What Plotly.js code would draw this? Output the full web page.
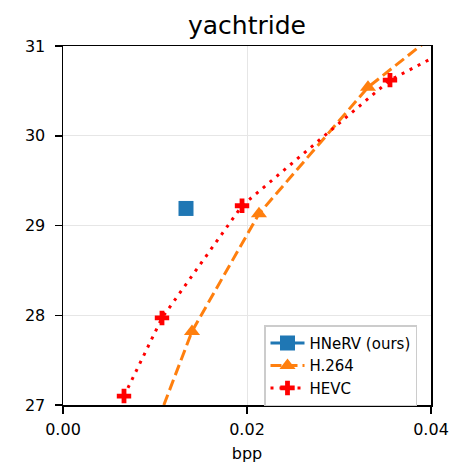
<!DOCTYPE html>
<html><head><meta charset="utf-8">
<script src="https://cdn.plot.ly/plotly-3.0.1.min.js"></script>
<style>body{margin:0;background:#fff}#c{width:452px;height:466px}</style>
</head><body><div id="c"></div>
<script>
const hnervBpp = [0.01337];
const hnervPsnr = [29.19];
const h264Bpp = [0.0091, 0.01402, 0.0213, 0.03315, 0.045];
const h264Psnr = [26.5, 27.82, 29.13, 30.54, 31.5];
const hevcBpp = [0.00663, 0.01076, 0.01946, 0.03554, 0.052];
const hevcPsnr = [27.10, 27.97, 29.22, 30.62, 31.5];
const xTicks = [0, 0.02, 0.04];
const xTickText = ['0.00', '0.02', '0.04'];
const yTicks = [27, 28, 29, 30, 31];

const F = 'DejaVu Sans';
const traces = [
  {x: hnervBpp, y: hnervPsnr, name: 'HNeRV (ours)', mode: 'lines+markers',
   line: {color: '#1f77b4', width: 3}, marker: {symbol: 'square', size: 15, color: '#1f77b4'}},
  {x: h264Bpp, y: h264Psnr, name: 'H.264', mode: 'lines+markers',
   line: {color: '#ff7f0e', width: 3, dash: '11px,5px'}, marker: {symbol: 'triangle-up', size: 14, color: '#ff7f0e'}},
  {x: hevcBpp, y: hevcPsnr, name: 'HEVC', mode: 'lines+markers',
   line: {color: '#ff0000', width: 3, dash: '3px,6px'}, marker: {symbol: 'cross', size: 12, color: '#ff0000'}}
];
const layout = {
  width: 452, height: 466,
  margin: {l: 63, r: 21, t: 46, b: 61},
  paper_bgcolor: '#fff', plot_bgcolor: '#fff',
  font: {family: F, size: 16, color: '#000'},
  title: {text: 'yachtride', font: {family: F, size: 25, color: '#000'}, xref: 'paper', x: 0.5, xanchor: 'center',
    yref: 'container', y: 0.946, yanchor: 'middle'},
  xaxis: {range: [0, 0.04], tickvals: xTicks, ticktext: xTickText, showgrid: true, gridcolor: '#e6e6e6', gridwidth: 1,
    showline: true, linecolor: '#000', linewidth: 1.5, mirror: true, ticks: 'outside', ticklen: 7, tickwidth: 1.5, tickcolor: '#000',
    zeroline: false, tickfont: {family: F, size: 16, color: '#000'}, ticklabelstandoff: 2, automargin: false,
    title: {text: 'bpp', font: {family: F, size: 16, color: '#000'}, standoff: 10}},
  yaxis: {range: [27, 31], tickvals: yTicks, showgrid: true, gridcolor: '#e6e6e6', gridwidth: 1,
    showline: true, linecolor: '#000', linewidth: 1.5, mirror: true, ticks: 'outside', ticklen: 7, tickwidth: 1.5, tickcolor: '#000',
    zeroline: false, tickfont: {family: F, size: 16, color: '#000'}, ticklabelstandoff: 6, automargin: false},
  showlegend: true,
  legend: {x: (264 - 63) / 368, y: (406 - 326) / 360, xanchor: 'left', yanchor: 'top', bgcolor: '#fff', bordercolor: '#cccccc', borderwidth: 1.5,
    font: {family: F, size: 15, color: '#000'}, itemwidth: 34, tracegroupgap: 0}
};
Plotly.newPlot('c', traces, layout, {displayModeBar: false, staticPlot: true});
</script></body></html>
